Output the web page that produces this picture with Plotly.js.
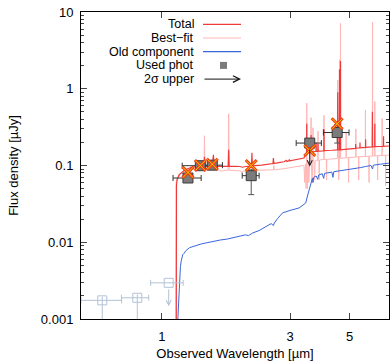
<!DOCTYPE html>
<html>
<head>
<meta charset="utf-8">
<script src="https://cdn.plot.ly/plotly-3.0.1.min.js"></script>
<style>
  html, body { margin: 0; padding: 0; background: #fff; }
  #gd { width: 390px; height: 363px; }
</style>
</head>
<body>
<div id="gd"></div>
<script>
// model spectra (wavelength in um, flux in uJy)
var totalWave = [1.125, 1.131, 1.133, 1.14, 1.16, 1.19, 1.22, 1.26, 1.30, 1.36, 1.435, 1.44, 1.445,
  1.545, 1.555, 1.565, 1.70, 1.765, 1.772, 1.779, 1.95, 2.0, 2.05, 2.155, 2.163, 2.17, 2.35, 2.5,
  2.59, 2.6, 2.61, 2.75, 2.85, 2.9, 2.92, 2.97, 2.98, 2.99, 3.1, 3.2, 3.3, 3.38, 3.40, 3.44,
  3.455, 3.46, 3.465, 3.55, 3.585, 3.59, 3.595, 3.7, 3.745, 3.75, 3.755, 3.805, 3.81, 3.815,
  4.005, 4.01, 4.015, 4.3, 4.505, 4.51, 4.515, 4.575, 4.58, 4.585, 4.615, 4.62, 4.625, 4.8,
  5.0, 5.255, 5.26, 5.265, 5.455, 5.46, 5.465, 5.725, 5.73, 5.735, 6.06, 6.07, 6.08, 6.195, 6.2,
  6.205, 6.675, 6.68, 6.685, 7.1];
var totalFlux = [0.0008, 0.0009, 0.055, 0.066, 0.076, 0.083, 0.088, 0.092, 0.095, 0.097, 0.097, 0.13, 0.097,
  0.097, 0.138, 0.097, 0.097, 0.098, 0.16, 0.098, 0.097, 0.095, 0.097, 0.098, 0.146, 0.099, 0.101, 0.104,
  0.106, 0.125, 0.106, 0.11, 0.112, 0.117, 0.113, 0.115, 0.12, 0.115, 0.118, 0.12, 0.123, 0.125, 0.135, 0.14,
  0.145, 0.35, 0.145, 0.15, 0.15, 0.25, 0.15, 0.152, 0.153, 0.2, 0.153, 0.153, 0.19, 0.154,
  0.155, 0.3, 0.156, 0.158, 0.16, 0.9, 0.16, 0.16, 1.8, 0.16, 0.16, 2.3, 0.16, 0.162,
  0.165, 0.167, 0.19, 0.168, 0.17, 0.2, 0.17, 0.172, 0.22, 0.172, 0.175, 0.5, 0.175, 0.176, 0.35,
  0.176, 0.178, 0.24, 0.178, 0.18];

var bestWave = [1.125, 1.128, 1.13, 1.14, 1.17, 1.2, 1.25, 1.3, 1.38, 1.435, 1.44, 1.445, 1.545, 1.55,
  1.555, 1.62, 1.66, 1.7, 1.765, 1.772, 1.779, 1.9, 1.95, 1.98, 2.02, 2.155, 2.163, 2.17, 2.4, 2.6,
  2.61, 2.62, 2.8, 3.0, 3.2, 3.35, 3.38, 3.40, 3.42, 3.44, 3.455, 3.46, 3.465, 3.48, 3.5, 3.52,
  3.55, 3.585, 3.59, 3.595, 3.62, 3.64, 3.645, 3.65, 3.655, 3.68, 3.7, 3.72, 3.805, 3.81, 3.815,
  3.84, 3.85, 3.86, 4.005, 4.01, 4.015, 4.09, 4.1, 4.11, 4.3, 4.505, 4.51, 4.515, 4.54, 4.55,
  4.56, 4.575, 4.58, 4.585, 4.615, 4.62, 4.625, 4.845, 4.85, 4.855, 4.94, 4.95, 4.96, 5.265,
  5.27, 5.275, 5.39, 5.4, 5.41, 5.715, 5.72, 5.725, 5.89, 5.9, 5.91, 6.07, 6.08, 6.09, 6.195,
  6.2, 6.205, 6.34, 6.35, 6.36, 6.595, 6.6, 6.605, 6.79, 6.8, 6.81, 7.1];
var bestFlux = [0.0008, 0.0009, 0.06, 0.068, 0.076, 0.082, 0.087, 0.09, 0.092, 0.092, 0.244, 0.092, 0.091, 0.13,
  0.09, 0.088, 0.084, 0.086, 0.087, 0.472, 0.087, 0.086, 0.085, 0.082, 0.085, 0.086, 0.12, 0.086, 0.087, 0.088,
  0.1, 0.088, 0.09, 0.094, 0.098, 0.1, 0.098, 0.06, 0.105, 0.05, 0.11, 0.65, 0.11, 0.05, 0.112, 0.06,
  0.115, 0.115, 0.42, 0.115, 0.06, 0.115, 0.115, 0.31, 0.115, 0.115, 0.065, 0.117, 0.117, 0.28, 0.117,
  0.117, 0.065, 0.118, 0.12, 0.45, 0.12, 0.12, 0.065, 0.12, 0.122, 0.123, 1.3, 0.123, 0.123, 0.065,
  0.124, 0.124, 2.4, 0.124, 0.124, 7.1, 0.124, 0.126, 0.27, 0.126, 0.127, 0.06, 0.127, 0.129,
  0.3, 0.129, 0.13, 0.065, 0.13, 0.131, 0.53, 0.131, 0.132, 0.06, 0.132, 0.133, 7.4, 0.133, 0.133,
  0.68, 0.133, 0.134, 0.065, 0.134, 0.135, 0.41, 0.135, 0.136, 0.055, 0.136, 0.137];

var oldWave = [1.143, 1.146, 1.156, 1.16, 1.163, 1.166, 1.172, 1.18, 1.196, 1.21, 1.23, 1.267, 1.3, 1.35,
  1.4, 1.461, 1.55, 1.65, 1.75, 1.834, 1.95, 2.05, 2.1, 2.175, 2.3, 2.438, 2.55, 2.6, 2.62, 2.7,
  2.81, 3.0, 3.24, 3.35, 3.43, 3.48, 3.52, 3.56, 3.6, 3.63, 3.65, 3.67, 3.75, 3.8, 3.83, 3.95,
  4.0, 4.03, 4.29, 4.33, 4.36, 4.6, 5.0, 5.5, 5.72, 6.0, 6.08, 6.12, 6.5, 7.1];
var oldFlux = [0.0008, 0.001, 0.00243, 0.0034, 0.0028, 0.0036, 0.0048, 0.0057, 0.0069, 0.0072, 0.0078, 0.0085,
  0.0088, 0.0092, 0.0095, 0.0098, 0.0103, 0.0107, 0.011, 0.0114, 0.0121, 0.0125, 0.0122, 0.0132, 0.0142,
  0.0161, 0.0175, 0.0165, 0.0178, 0.0205, 0.0241, 0.026, 0.028, 0.0305, 0.0325, 0.04, 0.047, 0.055, 0.063,
  0.068, 0.06, 0.07, 0.073, 0.066, 0.075, 0.078, 0.068, 0.079, 0.082, 0.07, 0.083, 0.085, 0.089, 0.094,
  0.097, 0.1, 0.09, 0.101, 0.104, 0.108];

// photometry used in the fit
var photWave = [1.25, 1.39, 1.54, 2.15, 3.55, 4.49];
var photFlux = [0.0687, 0.0994, 0.101, 0.0737, 0.196, 0.269];
var photLo = [1.10, 1.19, 1.40, 1.99, 3.16, 3.99];
var photHi = [1.40, 1.59, 1.68, 2.30, 3.92, 4.97];
var photErrMinus = [0.0066, 0.006, 0.006, 0.032, 0, 0.073];
var photErrPlus = [0.0073, 0.006, 0.006, 0.014, 0, 0.071];
var modelPhot = [0.0813, 0.100, 0.104, 0.100, 0.157, 0.35];
var limitIdx = [4];
var limitTo = [0.097];

// photometry not used (bluewards of the break)
var dropWave = [0.60, 0.81, 1.06];
var dropFlux = [0.00175, 0.00189, 0.00296];
var dropLo = [0.50, 0.707, 0.908];
var dropHi = [0.708, 0.893, 1.20];
var dropErrMinus = [0.00174, 0.00188, 0];
var dropErrPlus = [0.0002, 0.0002, 0];
var dropLimitIdx = [2];
var dropLimitTo = [0.00147];

var W = 390, H = 363, L = 81, R = 1, T = 12, B = 44;
function px(x) { return (x - L) / (W - L - R); }
function py(y) { return (H - B - y) / (H - T - B); }

function minus(v, lo) { return v.map(function (d, i) { return d - lo[i]; }); }
function plus(v, hi) { return v.map(function (d, i) { return hi[i] - d; }); }

var dropColor = '#b3c2d6';

var traces = [
  { x: bestWave, y: bestFlux, mode: 'lines', line: { color: '#ffb6b6', width: 1 }, hoverinfo: 'skip' },
  { x: oldWave, y: oldFlux, mode: 'lines', line: { color: '#3a66dd', width: 1 } },
  { x: totalWave, y: totalFlux, mode: 'lines', line: { color: '#f03a3a', width: 1.2 } },
  {
    x: dropWave, y: dropFlux, mode: 'markers',
    marker: { symbol: 'square-open', size: 9, color: dropColor, line: { width: 1 } },
    error_x: { type: 'data', symmetric: false, array: plus(dropWave, dropHi), arrayminus: minus(dropWave, dropLo), color: dropColor, thickness: 1, width: 3 },
    error_y: { type: 'data', symmetric: false, array: dropErrPlus, arrayminus: dropErrMinus, color: dropColor, thickness: 1, width: 0 }
  },
  {
    x: photWave, y: photFlux, mode: 'markers',
    marker: { symbol: 'square', size: 10, color: '#7b7b7b', line: { color: '#3a3a3a', width: 1 } },
    error_x: { type: 'data', symmetric: false, array: plus(photWave, photHi), arrayminus: minus(photWave, photLo), color: '#333', thickness: 1, width: 3 },
    error_y: { type: 'data', symmetric: false, array: photErrPlus, arrayminus: photErrMinus, color: '#555', thickness: 1, width: 3 }
  },
  { x: photWave, y: modelPhot, mode: 'markers', marker: { symbol: 'x-thin', size: 11, line: { color: '#f23c10', width: 3 } } },
  { x: photWave, y: modelPhot, mode: 'markers', marker: { symbol: 'x-thin', size: 10, line: { color: '#e8d000', width: 1 } } }
];

var annotations = [];
limitIdx.forEach(function (k, i) {
  annotations.push({
    x: Math.log10(photWave[k]), y: Math.log10(limitTo[i]), ax: Math.log10(photWave[k]), ay: Math.log10(photFlux[k]),
    xref: 'x', yref: 'y', axref: 'x', ayref: 'y', text: '', showarrow: true,
    arrowhead: 5, arrowsize: 1, arrowwidth: 1, arrowcolor: '#111', startstandoff: 5
  });
});
dropLimitIdx.forEach(function (k, i) {
  annotations.push({
    x: Math.log10(dropWave[k]), y: Math.log10(dropLimitTo[i]), ax: Math.log10(dropWave[k]), ay: Math.log10(dropFlux[k]),
    xref: 'x', yref: 'y', axref: 'x', ayref: 'y', text: '', showarrow: true,
    arrowhead: 5, arrowsize: 1, arrowwidth: 1, arrowcolor: dropColor, startstandoff: 5
  });
});

// legend drawn gnuplot style: label on the left, sample on the right
var legendLabels = ['Total', 'Best\u2212fit', 'Old component', 'Used phot', '2\u03c3 upper'];
var legendY = [24.3, 38, 51.7, 65.4, 79.1];
var shapes = [];
legendLabels.forEach(function (t, i) {
  annotations.push({
    x: px(195), y: py(legendY[i]), xref: 'paper', yref: 'paper', xanchor: 'right', yanchor: 'middle',
    text: t, showarrow: false, borderpad: 0, font: { size: 12.5, color: '#000' }
  });
});
var sampleColors = ['#f03a3a', '#ffd0d0', '#3a66dd'];
sampleColors.forEach(function (c, i) {
  shapes.push({ type: 'line', xref: 'paper', yref: 'paper', x0: px(203), x1: px(241), y0: py(legendY[i]), y1: py(legendY[i]), line: { color: c, width: 1.3 } });
});
shapes.push({ type: 'rect', xref: 'paper', yref: 'paper', x0: px(220), x1: px(227), y0: py(legendY[3] + 3.5), y1: py(legendY[3] - 3.5), fillcolor: '#7b7b7b', line: { width: 0 } });
annotations.push({
  x: px(241), y: py(legendY[4]), xref: 'paper', yref: 'paper', ax: -38, ay: 0, text: '', showarrow: true,
  arrowhead: 5, arrowsize: 1.3, arrowwidth: 1, arrowcolor: '#111'
});

var font = { family: 'Liberation Sans, Arial, Helvetica, sans-serif', size: 13, color: '#000' };

var layout = {
  width: W, height: H,
  margin: { l: L, r: R, t: T, b: B },
  paper_bgcolor: '#fff', plot_bgcolor: '#fff',
  font: font,
  showlegend: false,
  xaxis: {
    type: 'log', range: [Math.log10(0.5), Math.log10(7)],
    tickvals: [1, 3, 5], ticktext: ['1', '3', '5'],
    ticks: 'inside', ticklen: 6, tickcolor: '#444', tickwidth: 1,
    showline: true, linecolor: '#000', linewidth: 1, mirror: 'allticks',
    showgrid: false, zeroline: false, automargin: false,
    ticklabelstandoff: 5,
    title: { text: 'Observed Wavelength [\u00b5m]', font: font, standoff: 6 }
  },
  yaxis: {
    type: 'log', range: [-3, 1],
    tickvals: [0.001, 0.01, 0.1, 1, 10], ticktext: ['0.001', '0.01', '0.1', '1', '10'],
    ticks: 'inside', ticklen: 6, tickcolor: '#444', tickwidth: 1,
    minor: { ticks: 'inside', ticklen: 3, tickcolor: '#444', dtick: 'D1', showgrid: false },
    showline: true, linecolor: '#000', linewidth: 1, mirror: 'allticks',
    showgrid: false, zeroline: false, automargin: false,
    ticklabelstandoff: 4,
    title: { text: 'Flux density [\u00b5Jy]', font: font, standoff: 19 }
  },
  annotations: annotations,
  shapes: shapes
};

Plotly.newPlot('gd', traces, layout, { displayModeBar: false, staticPlot: true });
</script>
</body>
</html>
